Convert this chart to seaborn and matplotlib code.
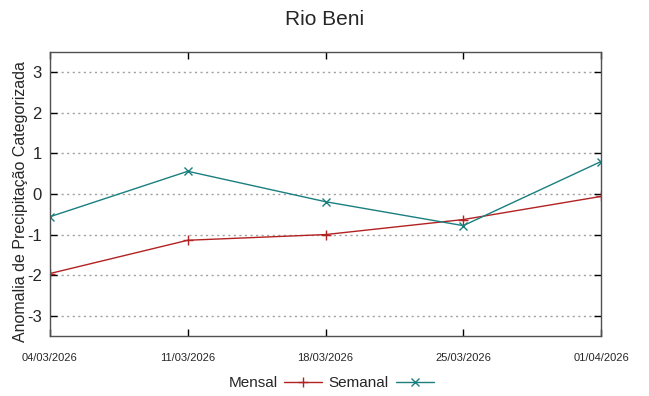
import matplotlib
matplotlib.use("Agg")
import matplotlib.pyplot as plt
import seaborn as sns
import pandas as pd

dates = ["04/03/2026", "11/03/2026", "18/03/2026", "25/03/2026", "01/04/2026"]
mensal = [-1.96, -1.14, -1.0, -0.63, -0.06]
semanal = [-0.56, 0.56, -0.19, -0.78, 0.80]
yticks = [-3, -2, -1, 0, 1, 2, 3]

sns.set_style("ticks")
plt.rcParams['font.family'] = ['Liberation Sans', 'DejaVu Sans']

dt = pd.to_datetime(dates, format="%d/%m/%Y")
df_m = pd.DataFrame({"Data": dt, "Valor": mensal})
df_s = pd.DataFrame({"Data": dt, "Valor": semanal})

fig = plt.figure(figsize=(6.49, 3.96), dpi=100)
ax = fig.add_axes([50/649, 60/396, 551/649, 284/396])

c_m = "#b22222"
c_s = "#1a7f7f"
sns.lineplot(data=df_m, x="Data", y="Valor", ax=ax, color=c_m, marker="+",
             markersize=7, markeredgewidth=1.0, markeredgecolor=c_m,
             linewidth=1.0, label="Mensal")
sns.lineplot(data=df_s, x="Data", y="Valor", ax=ax, color=c_s, marker="x",
             markersize=6, markeredgewidth=1.0, markeredgecolor=c_s,
             linewidth=1.0, label="Semanal")

ax.set_xlim(dt[0], dt[-1])
ax.set_ylim(-3.5, 3.5)
ax.set_yticks(yticks)
ax.set_yticklabels([str(v) for v in yticks], fontsize=12)
ax.set_xticks(dt)
ax.set_xticklabels(dates, fontsize=8)
ax.tick_params(axis="both", direction="in", length=5, width=1, color="black",
               top=True, right=True)
ax.tick_params(axis="x", pad=12)
ax.tick_params(axis="y", pad=6)
ax.yaxis.grid(True, linestyle=(0, (1.5, 2.5)), color="#a0a0a0", linewidth=1.0)
ax.xaxis.grid(False)
for s in ax.spines.values():
    s.set_color("#505050")
    s.set_linewidth(1.0)

ax.set_xlabel("")
ax.set_ylabel("Anomalia de Precipitação Categorizada", fontsize=11.5)
ax.yaxis.set_label_coords(-0.040, 0.475)
fig.suptitle("Rio Beni", fontsize=15, y=0.975)

handles, labels = ax.get_legend_handles_labels()
ax.legend(handles, labels, loc="center", bbox_to_anchor=(0.51, -0.165),
          ncol=2, frameon=False, markerfirst=False, fontsize=11,
          handlelength=2.5, columnspacing=0.4, handletextpad=0.45)

fig.savefig("out.png", dpi=100)
